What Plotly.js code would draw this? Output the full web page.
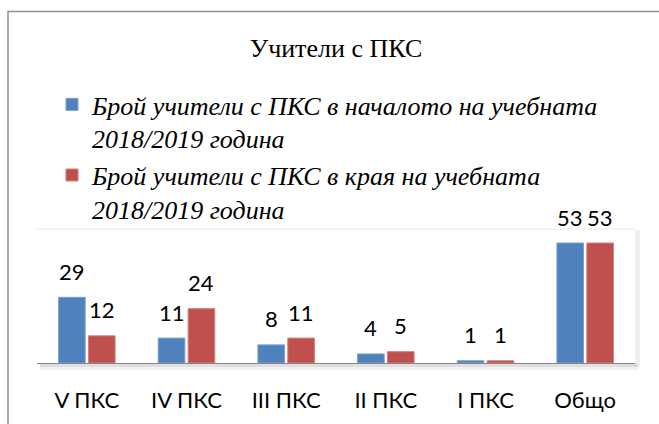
<!DOCTYPE html>
<html>
<head>
<meta charset="utf-8">
<script src="https://cdn.plot.ly/plotly-3.0.1.min.js"></script>
<style>
html,body{margin:0;padding:0;background:#fff;}
#chart{width:659px;height:424px;}
</style>
</head>
<body>
<div id="chart"></div>
<script>
const categories = ["V ПКС", "IV ПКС", "III ПКС", "II ПКС", "I ПКС", "Общо"];
const startValues = [29, 11, 8, 4, 1, 53];
const endValues = [12, 24, 11, 5, 1, 53];
const seriesNames = [
  "Брой учители с ПКС в началото на учебната<br>2018/2019 година",
  "Брой учители с ПКС в края на учебната<br>2018/2019 година"
];
const chartTitle = "Учители с ПКС";

const W = 659, H = 424;
const M = {l: 37, r: 24, t: 229, b: 61};
const plotW = W - M.l - M.r, plotH = H - M.t - M.b;
const px2x = p => (p - M.l) / plotW;
const px2y = p => (H - M.b - p) / plotH;

const blue = "#4F81BD", red = "#C0504D";
const labelFont = {family: "Lato, 'Open Sans', sans-serif", size: 22, color: "#000"};
const serifFont = "Liberation Serif, Times New Roman, serif";

const traces = [
  {type: "bar", x: categories, y: startValues, name: seriesNames[0],
   marker: {color: blue, line: {color: "#7a9fd0", width: 1}}, hoverinfo: "y"},
  {type: "bar", x: categories, y: endValues, name: seriesNames[1],
   marker: {color: red, line: {color: "#d47d7a", width: 1}}, hoverinfo: "y"}
];

const slot = plotW / categories.length * (1 - 0.4) / 2;
const annotations = [];
[startValues, endValues].forEach((vals, s) => {
  vals.forEach((v, i) => {
    annotations.push({
      x: categories[i], y: v, xref: "x", yref: "y",
      text: String(v), showarrow: false,
      xshift: (s === 0 ? -1 : 1) * slot / 2, yshift: 26,
      yanchor: "middle", font: labelFont
    });
  });
});

const shapes = [
  {type: "rect", xref: "paper", yref: "paper", x0: px2x(8), x1: px2x(W + 20), y0: px2y(H + 20), y1: px2y(11.5),
   line: {color: "#8f8f8f", width: 1.5}, fillcolor: "rgba(0,0,0,0)", layer: "below"},
  {type: "line", xref: "paper", yref: "paper", x0: 0, x1: 1, y0: 1, y1: 1,
   line: {color: "#ececec", width: 1}, layer: "below"},
  {type: "rect", xref: "paper", yref: "paper", ysizemode: "pixel", yanchor: 0, y0: -1, y1: -7, x0: 0.005, x1: 1.005,
   fillcolor: "rgba(0,0,0,0.05)", line: {width: 0}, layer: "below"},
  {type: "rect", xref: "paper", yref: "paper", ysizemode: "pixel", yanchor: 0, y0: -1, y1: -4, x0: 0.005, x1: 1.003,
   fillcolor: "rgba(0,0,0,0.08)", line: {width: 0}, layer: "below"},
  {type: "rect", xref: "paper", yref: "paper", xsizemode: "pixel", xanchor: 1, x0: 0, x1: 5, y0: -0.03, y1: 0.99,
   fillcolor: "rgba(0,0,0,0.07)", line: {width: 0}, layer: "below"}
];

const layout = {
  width: W, height: H,
  margin: {l: M.l, r: M.r, t: M.t, b: M.b, autoexpand: false},
  paper_bgcolor: "#fff", plot_bgcolor: "#fff",
  title: {text: chartTitle, font: {family: serifFont, size: 26, color: "#000"},
          x: 0.5, xref: "paper", xanchor: "center", y: 1 - 48 / H, yref: "container", yanchor: "middle"},
  barmode: "group", bargap: 0.4, bargroupgap: 0.11,
  xaxis: {type: "category", range: [-0.5, 5.5], showgrid: false, zeroline: false,
          showline: true, linecolor: "#868686", linewidth: 1, ticks: "",
          tickfont: labelFont, ticklabelstandoff: 18, fixedrange: true},
  yaxis: {range: [0, 53 * plotH / 120], showgrid: false, zeroline: false, showline: false,
          showticklabels: false, ticks: "", fixedrange: true},
  showlegend: true,
  legend: {x: px2x(52), xanchor: "left", y: px2y(81), yanchor: "top", valign: "top",
           orientation: "v", bgcolor: "rgba(0,0,0,0)", traceorder: "normal",
           font: {family: serifFont, size: 26, color: "#000", style: "italic"}},
  annotations: annotations,
  shapes: shapes
};

Plotly.newPlot("chart", traces, layout, {displayModeBar: false, staticPlot: true});
</script>
</body>
</html>
